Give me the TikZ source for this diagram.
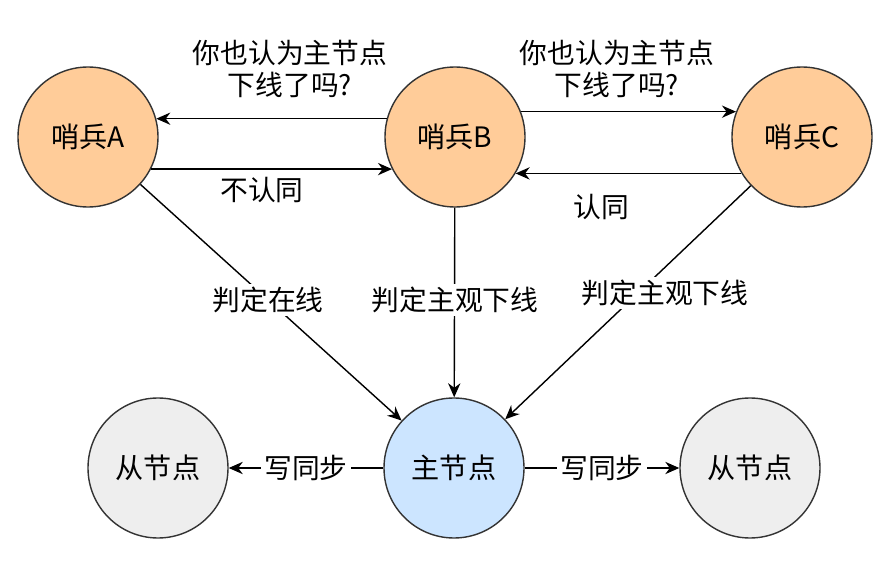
\documentclass[tikz,border=0pt]{standalone}
\usepackage{fontspec}
\usepackage{xcolor}
\usepackage{tikz}
\usetikzlibrary{arrows.meta}
\setmainfont{Noto Sans CJK SC}
\definecolor{SentinelOrange}{RGB}{255,204,153}
\definecolor{MasterBlue}{RGB}{204,229,255}
\definecolor{SlaveGray}{RGB}{238,238,238}
\definecolor{EdgeGray}{RGB}{51,51,51}

\begin{document}
\begin{tikzpicture}[
    circ/.style={
        circle,
        draw=EdgeGray,
        line width=0.8pt,
        minimum size=2.8cm,
        inner sep=0pt,
        font=\fontsize{16}{19}\selectfont
    },
    sentinel/.style={
        circ,
        fill=SentinelOrange
    },
    master/.style={
        circ,
        fill=MasterBlue
    },
    slave/.style={
        circ,
        fill=SlaveGray
    },
    lbl/.style={
        align=center,
        inner sep=1pt,
        font=\fontsize{15.8}{18.5}\selectfont
    },
    edgelbl/.style={
        lbl,
        fill=white,
        inner sep=2pt
    },
    arrow/.style={
        -{Stealth[length=8pt,width=7pt]},
        line width=0.8pt
    }
]

\useasboundingbox (0,0) rectangle (17.66,-11.32);

\node[sentinel] (sentA) at (1.76,-2.74) {哨兵A};
\node[sentinel] (sentB) at (9.10,-2.74) {哨兵B};
\node[sentinel] (sentC) at (16.04,-2.74) {哨兵C};

\node[slave] (slaveL) at (3.16,-9.36) {从节点};
\node[master] (master) at (9.08,-9.36) {主节点};
\node[slave] (slaveR) at (15.00,-9.36) {从节点};


% asking each other
\draw[arrow] (sentB.165) -- (sentA.15);
\draw[arrow] (sentA.-27) -- (sentB.207);

\draw[arrow] (sentB.21) -- (sentC.159);
\draw[arrow] (sentC.211) -- (sentB.-31);

\node[lbl] (askL) at (5.80,-1.38) {你也认为主节点\\下线了吗?};
\node[lbl] (askR) at (12.34,-1.38) {你也认为主节点\\下线了吗?};
\node[lbl] (nope) at (5.24,-3.80) {不认同};
\node[lbl] (yes) at (12.02,-4.14) {认同};


% judging the master
\draw[arrow] (sentA) -- (master);
\draw[arrow] (sentB) -- (master);
\draw[arrow] (sentC) -- (master);

\node[edgelbl] (online) at (5.36,-6.00) {判定在线};
\node[edgelbl] (downB) at (9.10,-6.00) {判定主观下线};
\node[edgelbl] (downC) at (13.30,-5.86) {判定主观下线};


% replication
\draw[arrow] (master) -- node[edgelbl] {写同步} (slaveL);
\draw[arrow] (master) -- node[edgelbl] {写同步} (slaveR);

\end{tikzpicture}
\end{document}
